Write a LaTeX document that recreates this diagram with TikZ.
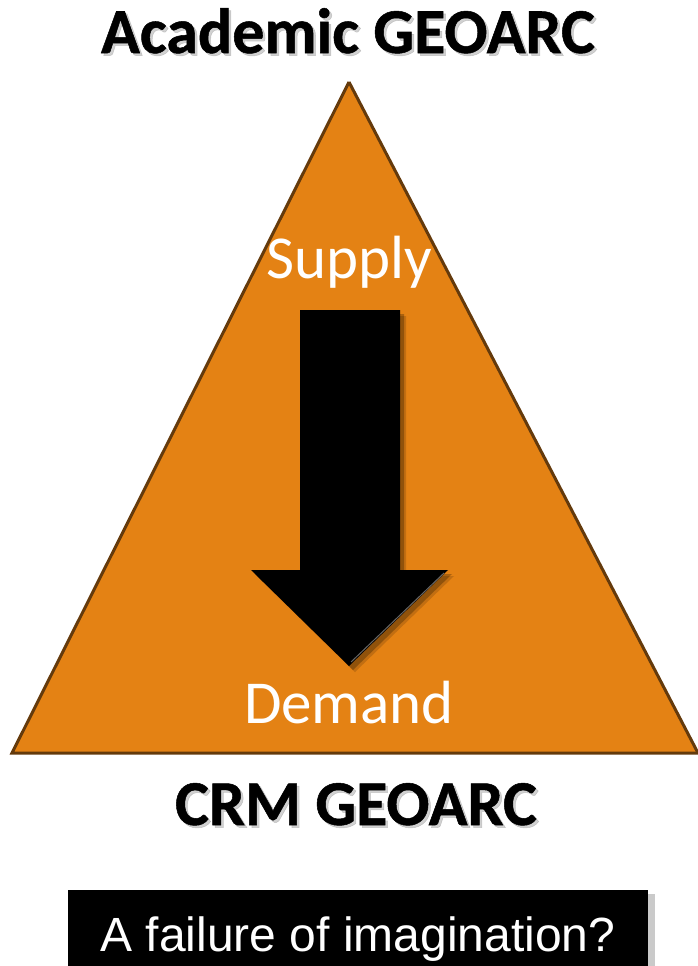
\documentclass[tikz,border=0pt]{standalone}
\usepackage{fontspec}
\setmainfont{Carlito}
\newfontfamily\arialfont{Liberation Sans}
\newfontfamily\headfont[FakeBold=0.8]{Carlito Bold}
\definecolor{triorange}{RGB}{228,130,20}
\definecolor{triedge}{RGB}{100,58,12}
\tikzset{
  heading/.style={font=\headfont\fontsize{64}{70}\selectfont, text=black, anchor=base, inner sep=0pt},
  headshadow/.style={font=\headfont\fontsize{64}{70}\selectfont, text=black!40, opacity=0.45, anchor=base, inner sep=0pt},
  flowlabel/.style={font=\fontsize{61}{66}\selectfont, text=white, anchor=base, inner sep=0pt},
  questionbox/.style={font=\arialfont\fontsize{48}{52}\selectfont, text=white, anchor=base, inner sep=0pt},
}
\begin{document}
\begin{tikzpicture}[x=1pt, y=-1pt]
  \useasboundingbox (0,0) rectangle (697,966);

  % triangle
  \coordinate (apex) at (349,82);
  \coordinate (baseL) at (12,753);
  \coordinate (baseR) at (698,753);
  \fill[triorange] (apex) -- (baseL) -- (baseR) -- cycle;
  \draw[triedge, line width=3pt, line join=miter] (apex) -- (baseL) -- (baseR);
  \draw[triedge, line width=3pt] (apex) -- (baseR);

  % downward arrow with soft shadow
  \fill[black, opacity=0.25, shift={(4,4)}]
    (300,310) -- (400,310) -- (400,570) -- (448,570) -- (349,666) -- (251,570) -- (300,570) -- cycle;
  \fill[black, opacity=0.15, shift={(6,6)}]
    (300,310) -- (400,310) -- (400,570) -- (448,570) -- (349,666) -- (251,570) -- (300,570) -- cycle;
  \fill[black] (300,310) -- (400,310) -- (400,570) -- (448,570) -- (349,666) -- (251,570) -- (300,570) -- cycle;
  \draw[black!60, line width=1pt] (444,573) -- (351,662);

  % titles with a light drop shadow
  \node[headshadow] at (350.5,55.5) {Academic GEOARC};
  \node[heading] (academic) at (348,53) {Academic GEOARC};
  \node[headshadow] at (358.5,827.5) {CRM GEOARC};
  \node[heading] (crm) at (356,825) {CRM GEOARC};

  % labels inside the triangle
  \node[flowlabel] (supply) at (349,278) {Supply};
  \node[flowlabel] (demand) at (349,723) {Demand};

  % question box
  \fill[black!35, opacity=0.6] (72,894) rectangle (655,970);
  \fill[black] (68,890) rectangle (648,970);
  \node[questionbox] (question) at (358,951) {A failure of imagination?};
\end{tikzpicture}
\end{document}
